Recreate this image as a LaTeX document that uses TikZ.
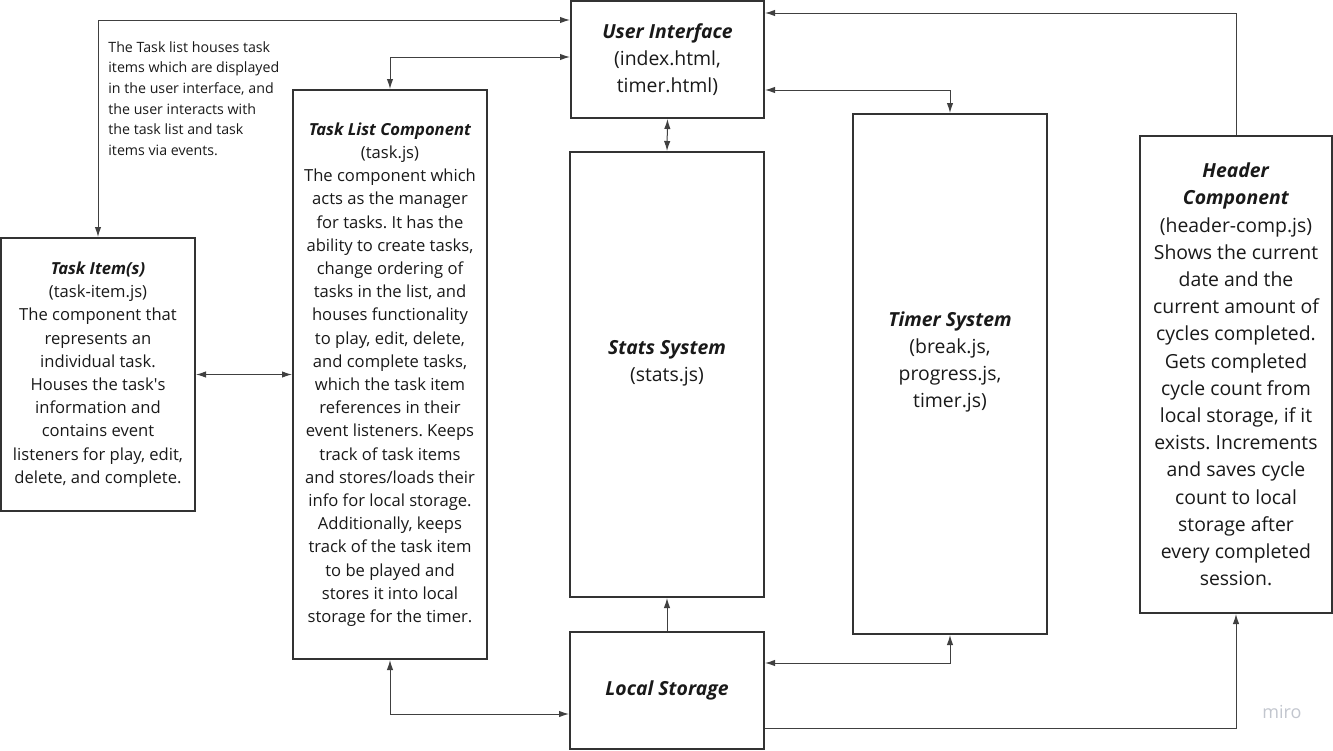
\documentclass[tikz,border=0pt]{standalone}
\usepackage{fontspec}
\setmainfont{Open Sans}
\usetikzlibrary{arrows.meta}
\definecolor{boxline}{HTML}{333333}
\definecolor{wireline}{HTML}{404040}
\definecolor{mirogray}{HTML}{C2C6CE}
\tikzset{
  comptext/.style={inner sep=0pt, align=center, text=black!90, font=\fontsize{8.3}{11.6}\selectfont},
  bigtext/.style={comptext, font=\fontsize{9.7}{13.6}\selectfont},
  comp/.style={comptext, draw=boxline, line width=1pt},
  bigcomp/.style={bigtext, draw=boxline, line width=1pt},
  wire/.style={draw=wireline, line width=0.5pt, {Latex[length=5pt,width=3.2pt]}-{Latex[length=5pt,width=3.2pt]}},
  oneway/.style={draw=wireline, line width=0.5pt, -{Latex[length=5pt,width=3.2pt]}},
}
\newcommand\ttl[1]{\textbf{\textit{#1}}}
\frenchspacing

\begin{document}
\begin{tikzpicture}[x=0.5pt,y=-0.5pt]
    \useasboundingbox (0,0) rectangle (1333,750);

%boxes
    \node[bigcomp, minimum width=96.5pt, minimum height=58.5pt] (ui) at (667.5,59.5)
        {\ttl{User Interface}\\(index.html,\\timer.html)};
    \node[comp, minimum width=97pt, minimum height=284.5pt] (tasklist) at (390,374.5)
        {\ttl{Task List Component}\\(task.js)\\The component which\\acts as the manager\\for tasks. It has the\\ability to create tasks,\\change ordering of\\tasks in the list, and\\houses functionality\\to play, edit, delete,\\and complete tasks,\\which the task item\\references in their\\event listeners. Keeps\\track of task items\\and stores/loads their\\info for local storage.\\Additionally, keeps\\track of the task item\\to be played and\\stores it into local\\storage for the timer.};
    \node[comp, minimum width=97pt, minimum height=136.5pt] (item) at (98,374.5)
        {\ttl{Task Item(s)}\\(task-item.js)\\The component that\\represents an\\individual task.\\Houses the task\textquotesingle s\\information and\\contains event\\listeners for play, edit,\\delete, and complete.};
    \node[bigcomp, minimum width=97pt, minimum height=222.5pt] (stats) at (667,374.5) {};
    \node[bigtext] (statstext) at (667,363.5) {\ttl{Stats System}\\(stats.js)};
    \node[bigcomp, minimum width=97pt, minimum height=260pt] (timer) at (950,374) {};
    \node[bigtext] (timertext) at (950,362) {\ttl{Timer System}\\(break.js,\\progress.js,\\timer.js)};
    \node[bigcomp, minimum width=96pt, minimum height=238.5pt] (header) at (1236,374.5)
        {\ttl{Header}\\\ttl{Component}\\(header-comp.js)\\Shows the current\\date and the\\current amount of\\cycles completed.\\Gets completed\\cycle count from\\local storage, if it\\exists. Increments\\and saves cycle\\count to local\\storage after\\every completed\\session.};
    \node[bigcomp, minimum width=97pt, minimum height=58.5pt] (local) at (667,690.5) {\ttl{Local Storage}};

%note
    \node[anchor=north west, align=left, inner sep=0pt, text=black!90, font=\fontsize{7.1}{10.35}\selectfont] (note) at (108,41)
        {The Task list houses task\\items which are displayed\\in the user interface, and\\the user interacts with\\the task list and task\\items via events.};

%user interface
    \draw [wire] (item.north) |- (ui.west |- 0,20);
    \draw [wire] (tasklist.north) |- (ui.west |- 0,57);
    \draw [wire] (ui.south) -- (stats.north);
    \draw [wire] (ui.east |- 0,90) -| (timer.north);
    \draw [oneway] (header.north) |- (ui.east |- 0,13);

%task item
    \draw [wire] (item.east) -- (tasklist.west);

%local storage
    \draw [wire] (tasklist.south) |- (local.west |- 0,714);
    \draw [oneway] (local.north) -- (stats.south);
    \draw [wire] (local.east |- 0,663) -| (timer.south);
    \draw [oneway] (local.east |- 0,728) -| (header.south);

    \node[text=mirogray, font=\fontsize{9}{10}\selectfont] (miro) at (1282,712) {miro};
\end{tikzpicture}
\end{document}
